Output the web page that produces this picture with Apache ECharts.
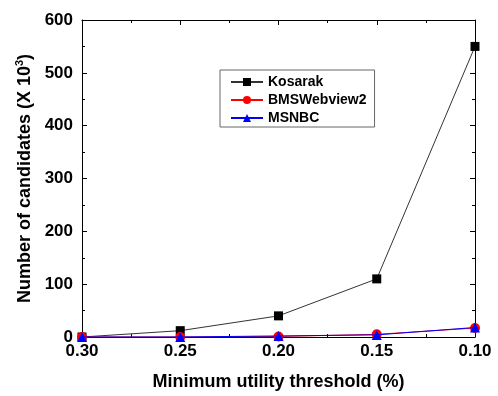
<!DOCTYPE html>
<html>
<head>
<meta charset="utf-8">
<script src="https://cdn.jsdelivr.net/npm/echarts@6/dist/echarts.min.js"></script>
<style>
  html, body { margin: 0; padding: 0; background: #fff; }
  #chart { width: 498px; height: 396px; }
</style>
</head>
<body>
<div id="chart"></div>
<script>
const thresholds = [0.30, 0.25, 0.20, 0.15, 0.10]
const kosarak = [0, 12, 40, 110, 550]
const bmsWebview2 = [0, 0, 1, 5, 17]
const msnbc = [0, 0, 2, 4, 18]
const seriesNames = ['Kosarak', 'BMSWebview2', 'MSNBC']

const font = 'Arial, "Liberation Sans", sans-serif'
const pairs = (ys) => thresholds.map((x, i) => [x, ys[i]])

const chart = echarts.init(document.getElementById('chart'))

const baseTicks = {
  axisLine: { show: true, onZero: false, lineStyle: { color: '#000', width: 1 } },
  axisTick: { show: true, inside: true, length: 5, lineStyle: { color: '#000' } },
  minorTick: { show: true, splitNumber: 2, length: 3, lineStyle: { color: '#000' } },
  splitLine: { show: false },
}

chart.setOption({
  animation: false,
  backgroundColor: '#fff',
  grid: { left: 82, right: 23, top: 20, bottom: 56 },
  legend: {
    data: seriesNames,
    orient: 'vertical',
    left: 220,
    top: 70,
    padding: [5, 8, 2, 10],
    itemGap: 4,
    itemWidth: 32,
    itemHeight: 10,
    borderColor: '#666',
    borderWidth: 1,
    textStyle: { fontFamily: font, fontWeight: 'bold', fontSize: 14, color: '#000' },
  },
  xAxis: [
    {
      ...baseTicks,
      type: 'value',
      inverse: true,
      min: 0.1,
      max: 0.3,
      interval: 0.05,
      name: 'Minimum utility threshold (%)',
      nameLocation: 'middle',
      nameGap: 36,
      nameTextStyle: { fontFamily: font, fontWeight: 'bold', fontSize: 18, color: '#000' },
      axisLabel: {
        fontFamily: font, fontWeight: 'bold', fontSize: 17, color: '#000', margin: 6,
        formatter: (v) => v.toFixed(2),
      },
    },
    {
      ...baseTicks,
      type: 'value',
      position: 'top',
      inverse: true,
      min: 0.1,
      max: 0.3,
      interval: 0.05,
      axisLabel: { show: false },
    },
  ],
  yAxis: [
    {
      ...baseTicks,
      type: 'value',
      min: 0,
      max: 600,
      interval: 100,
      name: '{n|Number of candidates (X 10}{s|3}{n|)}',
      nameLocation: 'middle',
      nameGap: 46,
      nameTextStyle: {
        rich: {
          n: { fontFamily: font, fontWeight: 'bold', fontSize: 18, color: '#000' },
          s: { fontFamily: font, fontWeight: 'bold', fontSize: 11, color: '#000', verticalAlign: 'top', padding: [0, 0, 9, 0] },
        },
      },
      axisLabel: { fontFamily: font, fontWeight: 'bold', fontSize: 17, color: '#000', margin: 9 },
    },
    {
      ...baseTicks,
      type: 'value',
      position: 'right',
      min: 0,
      max: 600,
      interval: 100,
      axisLabel: { show: false },
    },
  ],
  series: [
    {
      name: 'Kosarak',
      type: 'line',
      data: pairs(kosarak),
      symbol: 'rect',
      symbolSize: 9,
      lineStyle: { color: '#333', width: 1 },
      itemStyle: { color: '#000' },
      z: 3,
    },
    {
      name: 'BMSWebview2',
      type: 'line',
      data: pairs(bmsWebview2),
      symbol: 'circle',
      symbolSize: 10,
      lineStyle: { color: '#f00', width: 1 },
      itemStyle: { color: '#f00' },
      z: 4,
    },
    {
      name: 'MSNBC',
      type: 'line',
      data: pairs(msnbc),
      symbol: 'triangle',
      symbolSize: 10,
      lineStyle: { color: '#00f', width: 1 },
      itemStyle: { color: '#00f' },
      z: 5,
    },
  ],
})
</script>
</body>
</html>
